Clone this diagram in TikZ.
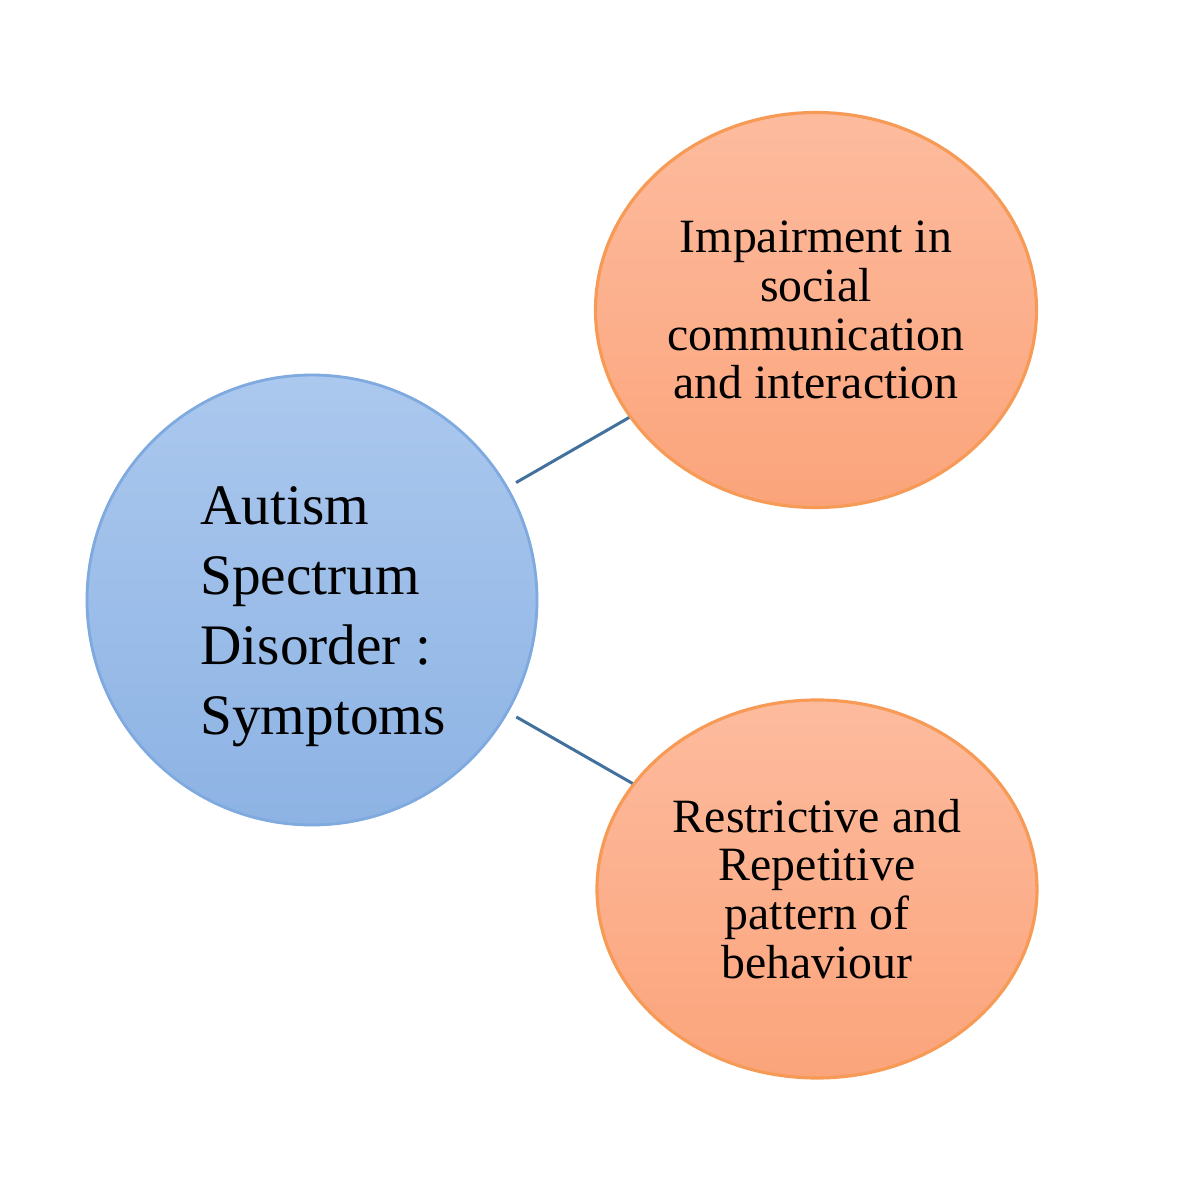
\documentclass[tikz,border=0pt]{standalone}
\usepackage{fontspec}
\setmainfont{Liberation Serif}
\usetikzlibrary{shapes.geometric}
\usetikzlibrary{positioning}

\definecolor{blueTop}{HTML}{ABC8EE}
\definecolor{blueBot}{HTML}{8DB3E4}
\definecolor{blueEdge}{HTML}{7FAADF}
\definecolor{orangeTop}{HTML}{FDBB9E}
\definecolor{orangeBot}{HTML}{FBA47B}
\definecolor{orangeEdge}{HTML}{F79A55}
\definecolor{linkBlue}{HTML}{41719C}

\begin{document}
\begin{tikzpicture}[
    disorder/.style={circle,draw=blueEdge,line width=0.8pt,
        top color=blueTop,bottom color=blueBot,minimum size=4.5cm},
    symptom/.style={ellipse,draw=orangeEdge,line width=0.9pt,
        top color=orangeTop,bottom color=orangeBot,inner sep=0pt,
        align=center,font=\fontsize{13.6}{13.9}\selectfont},
    link/.style={linkBlue,line width=0.85pt,shorten <=0.09cm},
]

\fill[white] (0,0) rectangle (12,12);
\useasboundingbox (0,0) rectangle (12,12);

%----------------------------------
% Disorder
%----------------------------------

\node[disorder] (asd) at (3.12,6.00) {};
\node[align=left,font=\fontsize{16.3}{19.9}\selectfont] (asdText)
    at (3.23,5.83) {Autism\\Spectrum\\Disorder :\\Symptoms};

%----------------------------------
% Symptoms
%----------------------------------

\node[symptom,minimum width=4.41cm,minimum height=3.95cm] (social)
    at (8.16,8.90) {Impairment in\\social\\communication\\and interaction};

\node[symptom,minimum width=4.40cm,minimum height=3.78cm] (restrict)
    at (8.17,3.11) {Restrictive and\\Repetitive\\pattern of\\behaviour};

%----------------------------------
% Links
%----------------------------------

\draw[link] (asd) -- (social);
\draw[link] (asd) -- (restrict);

\end{tikzpicture}
\end{document}
